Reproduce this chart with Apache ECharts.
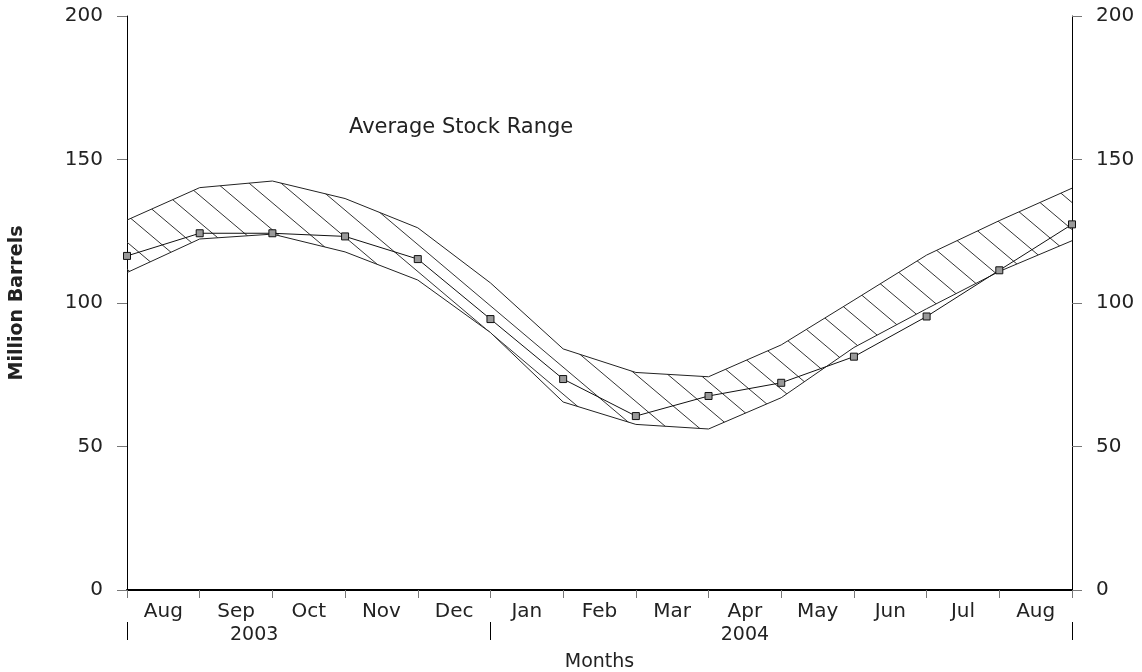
<!DOCTYPE html>
<html>
<head>
<meta charset="utf-8">
<style>
  html, body { margin: 0; padding: 0; background: #fff; }
  #chart { width: 1142px; height: 672px; }
</style>
<script src="https://cdn.jsdelivr.net/npm/echarts@6/dist/echarts.min.js"></script>
</head>
<body>
<div id="chart"></div>
<script>
// ---- data ----
const months = ['Aug','Sep','Oct','Nov','Dec','Jan','Feb','Mar','Apr','May','Jun','Jul','Aug'];
const years = ['2003', '2004'];
const yearStartIndex = [0, 5, 13];   // boundaries (month-start points) separating the years
const yTicks = [0, 50, 100, 150, 200];
// values at month boundaries (14 points, Aug 2003 start .. Aug 2004 end)
const stockLevel = [116.4, 124.3, 124.3, 123.2, 115.3, 94.4, 73.5, 60.6, 67.6, 72.2, 81.3, 95.3, 111.4, 127.4];
const rangeUpper = [128.9, 140.2, 142.5, 136.4, 126.2, 107.0, 84.0, 75.8, 74.3, 85.4, 101.0, 116.7, 128.7, 140.0];
const rangeLower = [110.6, 122.3, 124.0, 117.8, 108.0, 89.7, 65.5, 57.7, 56.1, 67.0, 84.5, 98.0, 111.0, 121.7];

// ---- hatch pattern ----
function makeHatch() {
  const W = 32, H = 27;
  const c = document.createElement('canvas');
  c.width = W; c.height = H;
  const ctx = c.getContext('2d');
  ctx.strokeStyle = '#333';
  ctx.lineWidth = 1;
  [-H, 0, H].forEach(function (off) {
    ctx.beginPath();
    ctx.moveTo(0, off);
    ctx.lineTo(W, H + off);
    ctx.stroke();
  });
  return c;
}

const FONT = 'DejaVu Sans';
const TXT = '#222';
const idx = stockLevel.map(function (_, i) { return String(i); });
const diff = rangeUpper.map(function (u, i) { return +(u - rangeLower[i]).toFixed(2); });

const chart = echarts.init(document.getElementById('chart'), null, { renderer: 'canvas' });
const yAxisBase = {
  type: 'value', min: yTicks[0], max: yTicks[yTicks.length - 1], interval: 50,
  axisLine: { show: true, lineStyle: { color: '#000', width: 1 } },
  axisTick: { show: true, length: 10, lineStyle: { color: '#777', width: 1 } },
  axisLabel: { margin: 24, fontSize: 20, color: TXT, fontFamily: FONT },
  splitLine: { show: false }
};
chart.setOption({
  animation: false,
  grid: { left: 127, right: 70, top: 16, bottom: 82, containLabel: false, outerBoundsMode: 'none' },
  xAxis: [
    {
      type: 'category', data: idx, boundaryGap: false, position: 'bottom',
      axisLine: { show: true, onZero: false, lineStyle: { color: '#000', width: 2 } },
      axisTick: { show: true, interval: 0, length: 8, lineStyle: { color: '#777', width: 1 } },
      axisLabel: { show: false },
      splitLine: { show: false },
      name: 'Months', nameLocation: 'middle', nameGap: 63,
      nameTextStyle: { fontSize: 19, color: TXT, fontFamily: FONT }
    },
    {
      type: 'category', data: months, boundaryGap: true, position: 'bottom',
      axisLine: { show: false }, axisTick: { show: false },
      axisLabel: { margin: 12, fontSize: 20, color: TXT, fontFamily: FONT, interval: 0 },
      splitLine: { show: false }
    },
    {
      type: 'value', min: 0, max: months.length, position: 'bottom', offset: 32,
      axisLine: { show: false },
      axisTick: { show: false },
      axisLabel: {
        customValues: [1.75, 8.5], margin: 4, fontSize: 19, color: TXT, fontFamily: FONT,
        formatter: function (v) { return v < yearStartIndex[1] ? years[0] : years[1]; }
      },
      splitLine: { show: false }
    }
  ],
  yAxis: [
    Object.assign({}, yAxisBase, {
      position: 'left',
      name: 'Million Barrels', nameLocation: 'middle', nameGap: 100, nameRotate: 90,
      nameTextStyle: { fontSize: 19, fontWeight: 'bold', color: TXT, fontFamily: FONT }
    }),
    Object.assign({}, yAxisBase, { position: 'right' })
  ],
  series: [
    {
      name: 'lower', type: 'line', stack: 'band', data: rangeLower,
      symbol: 'none', lineStyle: { color: '#222', width: 1 }, z: 2
    },
    {
      name: 'range', type: 'line', stack: 'band', data: diff,
      symbol: 'none', lineStyle: { color: '#222', width: 1 },
      areaStyle: { color: { image: makeHatch(), repeat: 'repeat' }, opacity: 1 }, z: 2
    },
    {
      name: 'stock', type: 'line', data: stockLevel,
      symbol: 'rect', symbolSize: 7,
      lineStyle: { color: '#111', width: 1 },
      itemStyle: { color: '#999', borderColor: '#111', borderWidth: 1 }, z: 3
    }
  ]
});

// year separators and annotation, positioned through the axis scales
const sepLines = yearStartIndex.map(function (i) {
  const x = Math.round(chart.convertToPixel({ xAxisIndex: 0 }, String(i))) + 0.5;
  const y0 = chart.convertToPixel({ yAxisIndex: 0 }, 0);
  return {
    type: 'line', silent: true,
    shape: { x1: x, y1: y0 + 32, x2: x, y2: y0 + 50 },
    style: { stroke: '#000', lineWidth: 1 }
  };
});
chart.setOption({
  graphic: sepLines.concat([{
    type: 'text', left: 349, top: 117,
    style: { text: 'Average Stock Range', fontSize: 21, fontFamily: FONT, fill: TXT }
  }])
});
</script>
</body>
</html>
